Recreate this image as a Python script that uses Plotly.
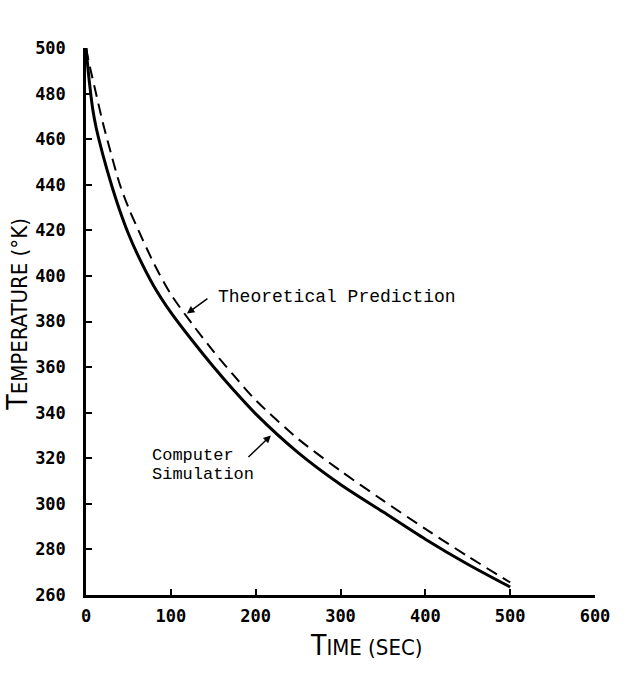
import plotly.graph_objects as go

# Data
time_sim = [0, 4, 8, 12, 20, 30, 40, 50, 60, 80, 100, 125, 150, 175, 200, 250, 300, 350, 400, 450, 500]
temp_sim = [500, 485, 473, 465, 453, 440, 428.5, 418.5, 410, 395.5, 384, 371.75, 360.25, 349.5, 339.5, 322.5, 308.5, 296.5, 284.5, 273.5, 263.5]

time_theo = [0, 5, 10, 20, 30, 40, 50, 60, 80, 100, 125, 150, 175, 200, 250, 300, 350, 400, 450, 500]
temp_theo = [500, 491, 483, 467, 453, 440, 430, 421.5, 405.5, 392, 379, 367, 356, 345.5, 328.5, 314.5, 301.5, 289, 277, 265.5]

x_ticks = [0, 100, 200, 300, 400, 500, 600]
y_ticks = [260, 280, 300, 320, 340, 360, 380, 400, 420, 440, 460, 480, 500]

MONO = "Liberation Mono, Courier New, monospace"
TICKFONT = "DejaVu Sans Mono, monospace"
TITLEFONT = "DejaVu Sans Condensed, Liberation Sans Narrow, DejaVu Sans, sans-serif"

fig = go.Figure()
fig.add_trace(go.Scatter(x=time_theo, y=temp_theo, mode="lines",
                         line=dict(color="black", width=2, dash="12px,7px", shape="spline", smoothing=0.8),
                         name="Theoretical Prediction", showlegend=False))
fig.add_trace(go.Scatter(x=time_sim, y=temp_sim, mode="lines",
                         line=dict(color="black", width=3, shape="spline", smoothing=0.8),
                         name="Computer Simulation", showlegend=False))

axis_common = dict(showgrid=False, zeroline=False, showline=True, linecolor="black", linewidth=2.5,
                   ticks="inside", ticklen=6, tickwidth=2, tickcolor="black",
                   tickfont=dict(family=TICKFONT, size=17, color="black", weight="bold"))

fig.update_xaxes(range=[0, 600], tickvals=x_ticks, ticktext=[str(v) for v in x_ticks],
                 ticklabelstandoff=4, **axis_common)
fig.update_yaxes(range=[260, 500], tickvals=y_ticks, ticktext=[str(v) for v in y_ticks],
                 ticklabelstandoff=14, **axis_common)

small = "<span style='font-size:22px'>"
fig.add_annotation(x=330, y=0, xref="x", yref="paper", yshift=-50, showarrow=False,
                   text="T" + small + "IME (SEC)</span>", xanchor="center", yanchor="middle",
                   font=dict(family=TITLEFONT, size=28, color="black"))
fig.add_annotation(x=0, y=383, xref="paper", yref="y", xshift=-68, showarrow=False, textangle=-90,
                   text="T" + small + "EMPERATURE (°K)</span>", xanchor="center", yanchor="middle",
                   font=dict(family=TITLEFONT, size=28, color="black"))

# Curve labels
fig.add_annotation(x=153.3, y=390.7, xref="x", yref="y", showarrow=False, xanchor="left", yanchor="middle",
                   text="Theoretical Prediction", font=dict(family=MONO, size=18, color="black"))
fig.add_annotation(x=75.5, y=321.3, xref="x", yref="y", showarrow=False, xanchor="left", yanchor="middle",
                   text="Computer", font=dict(family=MONO, size=17, color="black"))
fig.add_annotation(x=75.5, y=312.9, xref="x", yref="y", showarrow=False, xanchor="left", yanchor="middle",
                   text="Simulation", font=dict(family=MONO, size=17, color="black"))

# Arrows
fig.add_annotation(x=119, y=383.5, xref="x", yref="y", ax=22, ay=-16, showarrow=True, text="",
                   arrowhead=2, arrowsize=1, arrowwidth=1.5, arrowcolor="black")
fig.add_annotation(x=218, y=330, xref="x", yref="y", ax=-24, ay=23, showarrow=True, text="",
                   arrowhead=2, arrowsize=1, arrowwidth=1.5, arrowcolor="black")

fig.update_layout(width=626, height=684, margin=dict(l=86, r=31, t=48, b=89),
                  plot_bgcolor="white", paper_bgcolor="white", showlegend=False)

fig.write_html("out.html")
